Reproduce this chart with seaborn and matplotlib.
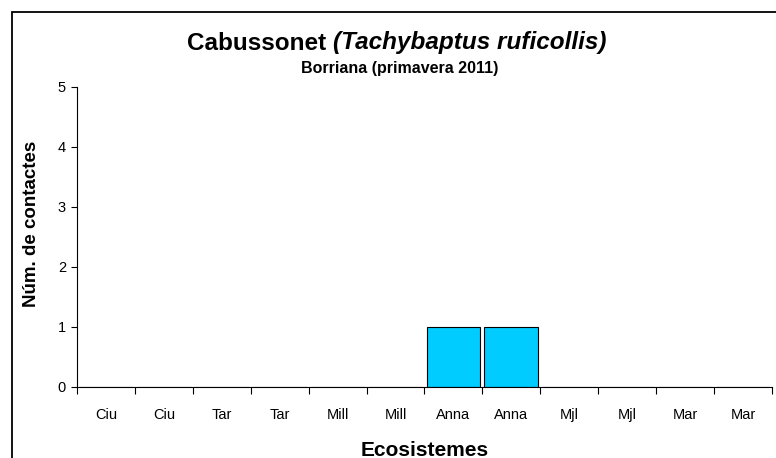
import numpy as np
import pandas as pd
import matplotlib
matplotlib.use("Agg")
import matplotlib.pyplot as plt
import seaborn as sns
from matplotlib.patches import Rectangle

# Dades
ecosistemes = ["Ciu", "Ciu", "Tar", "Tar", "Mill", "Mill",
               "Anna", "Anna", "Mjl", "Mjl", "Mar", "Mar"]
contactes = [0, 0, 0, 0, 0, 0, 1, 1, 0, 0, 0, 0]

df = pd.DataFrame({"slot": [str(i) for i in range(len(ecosistemes))],
                   "contactes": contactes})

sns.set_theme(style="white")
plt.rcParams["font.family"] = ["Liberation Sans", "DejaVu Sans"]
plt.rcParams["text.color"] = "black"
plt.rcParams["axes.labelcolor"] = "black"
plt.rcParams["xtick.color"] = "black"
plt.rcParams["ytick.color"] = "black"

fig = plt.figure(figsize=(7.76, 4.58), dpi=100)
ax = fig.add_axes([77 / 776, 1 - 387 / 458, 695 / 776, 300 / 458])

sns.barplot(data=df, x="slot", y="contactes", color="#00CCFF",
            saturation=1, width=0.93, edgecolor="black", linewidth=0.8, ax=ax)

ax.set_ylim(0, 5)
ax.set_xlim(-0.5, len(ecosistemes) - 0.5)
ax.set_yticks(range(6))
ax.set_yticklabels([str(i) for i in range(6)], fontsize=10.5)

# marques a les vores de les categories, etiquetes al centre
ax.set_xticks(np.arange(-0.5, len(ecosistemes), 1.0))
ax.set_xticklabels([])
ax.set_xticks(np.arange(len(ecosistemes)), minor=True)
ax.set_xticklabels(ecosistemes, minor=True, fontsize=10.5)
ax.tick_params(axis="x", which="major", direction="out", length=5, width=0.8,
               color="black", bottom=True)
ax.tick_params(axis="x", which="minor", length=0, pad=15)
ax.tick_params(axis="y", direction="out", length=4, width=0.8, color="black",
               left=True, pad=4)

for s in ["top", "right"]:
    ax.spines[s].set_visible(False)
for s in ["left", "bottom"]:
    ax.spines[s].set_color("black")
    ax.spines[s].set_linewidth(0.8)

ax.set_xlabel("Ecosistemes", fontsize=15, fontweight="bold")
ax.set_ylabel("Núm. de contactes", fontsize=13.5, fontweight="bold")
ax.xaxis.set_label_coords(0.5, (387 - 450) / 300)
ax.yaxis.set_label_coords((32 - 77) / 695, (387 - 224) / 300)
ax.xaxis.label.set_va("center")
ax.yaxis.label.set_va("center")

# títol: part normal + part en cursiva, centrat tot junt
t1 = fig.text(0, 1 - 43 / 458, "Cabussonet ", fontsize=17.5, fontweight="bold",
              ha="left", va="center")
t2 = fig.text(0, 1 - 43 / 458, "(Tachybaptus ruficollis)", fontsize=17.5,
              fontweight="bold", style="italic", ha="left", va="center")
renderer = fig.canvas.get_renderer()
w1 = t1.get_window_extent(renderer).width
w2 = t2.get_window_extent(renderer).width
x0 = 397 - (w1 + w2) / 2
t1.set_x(x0 / 776)
t2.set_x((x0 + w1) / 776)

fig.text(400 / 776, 1 - 69 / 458, "Borriana (primavera 2011)", fontsize=11.5,
         fontweight="bold", ha="center", va="center")

# marc del gràfic
fig.patches.append(Rectangle((12 / 776, -0.1), 1.0, 1 - 12 / 458 + 0.1,
                             transform=fig.transFigure, fill=False,
                             edgecolor="black", linewidth=1.3))

fig.savefig("out.png", dpi=100)
